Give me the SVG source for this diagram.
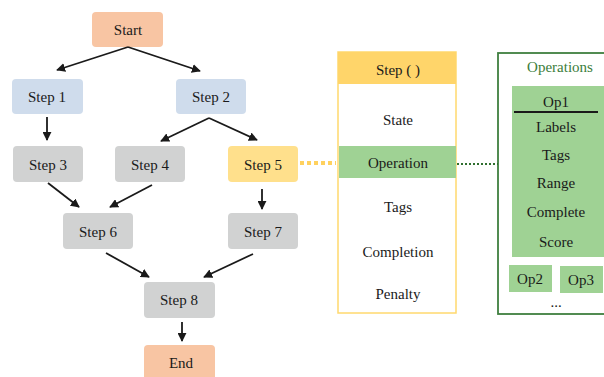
<svg xmlns="http://www.w3.org/2000/svg" width="604" height="377" viewBox="0 0 604 377">
  <defs>
    <marker id="arrow" viewBox="0 0 10 10" refX="9" refY="5" markerWidth="5" markerHeight="5" orient="auto" markerUnits="strokeWidth">
      <path d="M0,0 L10,5 L0,10 z" fill="#1a1a1a"/>
    </marker>
  </defs>
  <style>
    text { font-family: 'Liberation Serif', 'DejaVu Serif', 'Times New Roman', serif; font-size: 15px; fill: #1a1a1a; text-anchor: middle; dominant-baseline: central; }
    .terminal { fill: #F8C5A3; }
    .blue { fill: #CFDCEC; }
    .gray { fill: #D1D2D2; }
    .yellow { fill: #FFE08C; }
    .edge { stroke: #1a1a1a; stroke-width: 1.8; fill: none; marker-end: url(#arrow); }
    .green { fill: #9FD294; }
    .green-title { fill: #3B7D3B; }
  </style>
  <rect width="604" height="377" fill="#ffffff"/>

  <!-- flow nodes -->
  <g id="start"><rect class="terminal" x="92" y="12" width="71" height="35" rx="4"/><text x="128" y="30">Start</text></g>
  <g id="step1"><rect class="blue" x="12" y="79" width="71" height="35" rx="4"/><text x="47" y="97">Step 1</text></g>
  <g id="step2"><rect class="blue" x="176" y="79" width="70" height="35" rx="4"/><text x="211" y="97">Step 2</text></g>
  <g id="step3"><rect class="gray" x="13" y="146" width="70" height="36" rx="4"/><text x="48" y="165">Step 3</text></g>
  <g id="step4"><rect class="gray" x="115" y="146" width="70" height="36" rx="4"/><text x="150" y="165">Step 4</text></g>
  <g id="step5"><rect class="yellow" x="228" y="146" width="70" height="36" rx="4"/><text x="263" y="165">Step 5</text></g>
  <g id="step6"><rect class="gray" x="63" y="213" width="70" height="36" rx="4"/><text x="98" y="232">Step 6</text></g>
  <g id="step7"><rect class="gray" x="228" y="213" width="70" height="36" rx="4"/><text x="263" y="232">Step 7</text></g>
  <g id="step8"><rect class="gray" x="144" y="282" width="71" height="36" rx="4"/><text x="179" y="300">Step 8</text></g>
  <g id="end"><rect class="terminal" x="144" y="345" width="71" height="36" rx="4"/><text x="181" y="363">End</text></g>

  <!-- Step () structure -->
  <g id="step-struct">
    <rect x="338" y="52" width="118" height="261" fill="#ffffff" stroke="#FFD96E" stroke-width="1.5"/>
    <rect x="338" y="52" width="118" height="32" fill="#FFD56A"/>
    <rect class="green" x="339" y="146" width="117" height="32"/>
    <text x="398" y="70">Step ( )</text>
    <text x="398" y="120">State</text>
    <text x="398" y="163">Operation</text>
    <text x="398" y="207">Tags</text>
    <text x="398" y="252">Completion</text>
    <text x="398" y="294">Penalty</text>
  </g>

  <!-- Operations panel -->
  <g id="operations">
    <rect x="498" y="53" width="120" height="261" fill="#ffffff" stroke="#3F7F3F" stroke-width="1.8"/>
    <text class="green-title" x="560" y="67">Operations</text>
    <rect class="green" x="512" y="86" width="100" height="171"/>
    <text x="556" y="102">Op1</text>
    <line x1="514" y1="112" x2="598" y2="112" stroke="#1a1a1a" stroke-width="1.8"/>
    <text x="556" y="127">Labels</text>
    <text x="556" y="155">Tags</text>
    <text x="556" y="183">Range</text>
    <text x="556" y="212">Complete</text>
    <text x="556" y="242">Score</text>
    <rect class="green" x="509" y="265" width="43" height="27"/>
    <text x="530" y="279">Op2</text>
    <rect class="green" x="560" y="266" width="43" height="27"/>
    <text x="581" y="280">Op3</text>
    <text x="556" y="302">...</text>
  </g>

  <!-- connectors -->
  <g id="connectors">
    <line class="edge" x1="128" y1="47" x2="57" y2="70"/>
    <line class="edge" x1="128" y1="47" x2="200" y2="71"/>
    <line class="edge" x1="47" y1="117" x2="47" y2="140"/>
    <line class="edge" x1="209" y1="118" x2="161" y2="141"/>
    <line class="edge" x1="209" y1="118" x2="257" y2="140"/>
    <line class="edge" x1="48" y1="183" x2="79" y2="207"/>
    <line class="edge" x1="152" y1="185" x2="110" y2="207"/>
    <line class="edge" x1="262" y1="189" x2="262" y2="209"/>
    <line class="edge" x1="106" y1="253" x2="149" y2="277"/>
    <line class="edge" x1="253" y1="254" x2="204" y2="277"/>
    <line class="edge" x1="182" y1="322" x2="182" y2="341"/>
    <line x1="300" y1="163" x2="336" y2="163" stroke="#FFD15E" stroke-width="4" stroke-dasharray="4 3"/>
    <line x1="457" y1="164" x2="498" y2="164" stroke="#2F6F2F" stroke-width="2.2" stroke-dasharray="2 2"/>
  </g>
</svg>
